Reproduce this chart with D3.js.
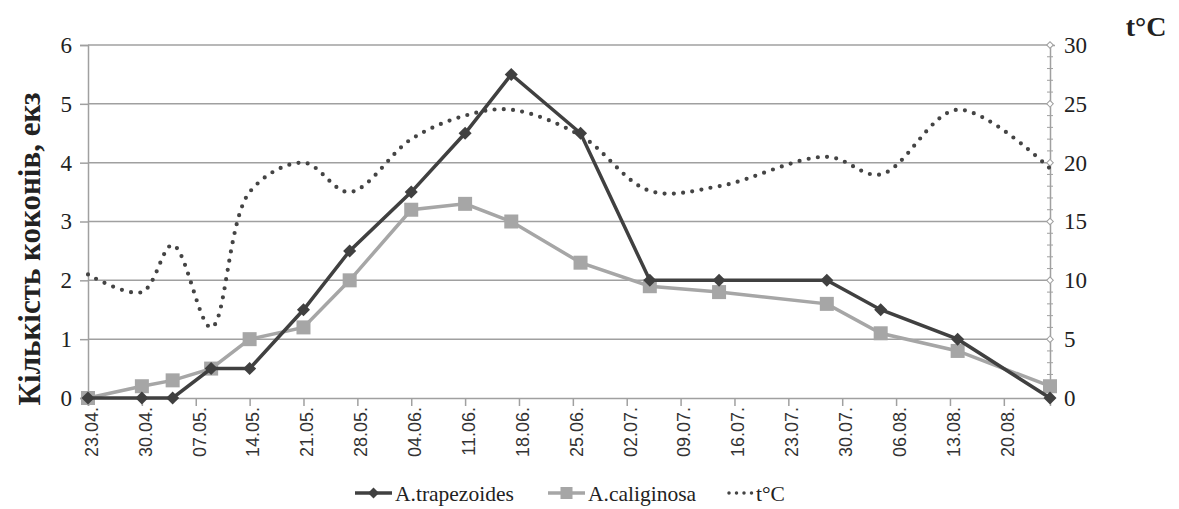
<!DOCTYPE html>
<html>
<head>
<meta charset="utf-8">
<script src="https://d3js.org/d3.v7.min.js"></script>
<style>
  body { margin: 0; background: #fff; }
  svg { font-family: "Liberation Serif", "DejaVu Serif", serif; }
</style>
</head>
<body>
<script>
// sampling dates (day.month)
var dates = ["23.04","30.04","04.05","09.05","14.05","21.05","27.05","04.06","11.06","17.06","26.06","05.07","14.07","28.07","04.08","14.08","26.08"];
var trapezoides = [0,0,0,0.5,0.5,1.5,2.5,3.5,4.5,5.5,4.5,2,2,2,1.5,1,0];
var caliginosa  = [0,0.2,0.3,0.5,1.0,1.2,2.0,3.2,3.3,3.0,2.3,1.9,1.8,1.6,1.1,0.8,0.2];
var temperature = [10.5,9.0,13.0,6.0,17.5,20.0,17.5,22.0,24.0,24.5,22.3,17.6,18.0,20.5,19.0,24.5,19.5];
var xTickLabels = ["23.04","30.04","07.05","14.05","21.05","28.05","04.06","11.06","18.06","25.06","02.07","09.07","16.07","23.07","30.07","06.08","13.08","20.08"];
var leftTicks = [0,1,2,3,4,5,6];
var rightTicks = [0,5,10,15,20,25,30];

function drawChart() {
  var width = 1179, height = 509;
  var mLeft = 88, mRight = 1050, mTop = 45, mBottom = 398;
  var serif = "'Liberation Serif', 'DejaVu Serif', serif";

  var parse = d3.timeParse("%d.%m");

  var svg = d3.select("body").append("svg")
    .attr("width", width).attr("height", height);

  var x = d3.scaleTime()
    .domain([parse(dates[0]), parse(dates[dates.length-1])])
    .range([mLeft, mRight]);
  var y = d3.scaleLinear().domain([0,6]).range([mBottom, mTop]);
  var yT = d3.scaleLinear().domain([0,30]).range([mBottom, mTop]);

  var axisColor = "#a0a0a0";

  // gridlines
  svg.append("g").selectAll("line")
    .data(leftTicks.filter(function(d){return d>0}))
    .enter().append("line")
    .attr("x1", mLeft).attr("x2", mRight)
    .attr("y1", function(d){return y(d)}).attr("y2", function(d){return y(d)})
    .attr("stroke", axisColor).attr("stroke-width", 1.5);

  // left axis
  var gl = svg.append("g").attr("transform","translate("+mLeft+",0)")
    .call(d3.axisLeft(y).tickValues(leftTicks).tickSize(8).tickPadding(8).tickFormat(d3.format("d")));
  // right axis
  var gr = svg.append("g").attr("transform","translate("+mRight+",0)")
    .call(d3.axisRight(yT).tickValues(rightTicks).tickSize(5).tickPadding(9).tickFormat(d3.format("d")));
  // right minor ticks
  svg.append("g").selectAll("line")
    .data(d3.range(0,31))
    .enter().append("line")
    .attr("x1", mRight-3).attr("x2", mRight+3)
    .attr("y1", function(d){return yT(d)}).attr("y2", function(d){return yT(d)})
    .attr("stroke", axisColor).attr("stroke-width", 1);
  svg.append("g").selectAll("path")
    .data(rightTicks)
    .enter().append("path")
    .attr("d", d3.symbol().type(d3.symbolSquare).size(22))
    .attr("transform", function(d){return "translate("+mRight+","+yT(d)+") rotate(45)"})
    .attr("fill", "#fff").attr("stroke", axisColor).attr("stroke-width", 1);

  // bottom axis
  var gx = svg.append("g").attr("transform","translate(0,"+mBottom+")")
    .call(d3.axisBottom(x).tickValues(xTickLabels.map(parse)).tickSize(8).tickFormat(d3.timeFormat("%d.%m.")));

  [gl, gr, gx].forEach(function(g){
    g.select(".domain").attr("stroke", axisColor).attr("stroke-width", 1.5);
    g.selectAll(".tick line").attr("stroke", axisColor).attr("stroke-width", 1.5);
    g.selectAll("text").attr("fill", "#222").style("font-size", "23px")
     .style("font-family", serif);
  });
  gx.selectAll("text")
    .attr("transform","rotate(-90)")
    .attr("text-anchor","end")
    .attr("x", -9).attr("y", 3).attr("dy", "0.35em")
    .style("font-size","18px")
    .style("font-family","'Liberation Sans', Arial, sans-serif")
    .attr("fill","#333");
  gr.selectAll(".tick line").remove();

  // axis titles
  svg.append("text")
    .attr("transform","translate(40,249) rotate(-90)")
    .attr("text-anchor","middle")
    .style("font-family", serif)
    .style("font-size","31px").style("font-weight","bold").attr("fill","#222")
    .text("Кількість коконів, екз");
  svg.append("text")
    .attr("x", 1146).attr("y", 36).attr("text-anchor","middle")
    .style("font-family", serif)
    .style("font-size","28px").style("font-weight","bold").attr("fill","#222")
    .text("t°C");

  // temperature
  var tLine = d3.line()
    .x(function(d,i){return x(parse(dates[i]))})
    .y(function(d){return yT(d)})
    .curve(d3.curveCatmullRom.alpha(0.5));
  svg.append("path").datum(temperature)
    .attr("d", tLine).attr("fill","none")
    .attr("stroke","#444").attr("stroke-width",4.2)
    .attr("stroke-linecap","round").attr("stroke-dasharray","0 9.3");

  var cLine = d3.line()
    .x(function(d,i){return x(parse(dates[i]))})
    .y(function(d){return y(d)});

  // caliginosa
  svg.append("path").datum(caliginosa)
    .attr("d", cLine).attr("fill","none")
    .attr("stroke","#a6a6a6").attr("stroke-width",3.5);
  svg.append("g").selectAll("rect")
    .data(caliginosa).enter().append("rect")
    .attr("x", function(d,i){return x(parse(dates[i]))-7})
    .attr("y", function(d){return y(d)-7})
    .attr("width",14).attr("height",14)
    .attr("fill","#a6a6a6");

  // trapezoides
  svg.append("path").datum(trapezoides)
    .attr("d", cLine).attr("fill","none")
    .attr("stroke","#404040").attr("stroke-width",3.5);
  svg.append("g").selectAll("path")
    .data(trapezoides).enter().append("path")
    .attr("d", d3.symbol().type(d3.symbolSquare).size(85))
    .attr("transform", function(d,i){return "translate("+x(parse(dates[i]))+","+y(d)+") rotate(45)"})
    .attr("fill","#404040");

  // legend
  var legend = svg.append("g").attr("transform","translate(0,493)");
  var items = [
    {name:"A.trapezoides", x:355, kind:"diamond"},
    {name:"A.caliginosa", x:548, kind:"square"},
    {name:"t°C", x:725, kind:"dots"}
  ];
  items.forEach(function(it){
    var g = legend.append("g").attr("transform","translate("+it.x+",0)");
    if (it.kind === "dots") {
      g.append("line").attr("x1",4).attr("x2",28).attr("y1",0).attr("y2",0)
        .attr("stroke","#444").attr("stroke-width",3.5).attr("stroke-linecap","round")
        .attr("stroke-dasharray","0 7.5");
    } else {
      var col = it.kind === "diamond" ? "#404040" : "#a6a6a6";
      g.append("line").attr("x1",0).attr("x2",37).attr("y1",0).attr("y2",0)
        .attr("stroke",col).attr("stroke-width",3.5);
      if (it.kind === "diamond")
        g.append("path").attr("d", d3.symbol().type(d3.symbolSquare).size(60))
          .attr("transform","translate(18.5,0) rotate(45)").attr("fill",col);
      else
        g.append("rect").attr("x",12.5).attr("y",-6).attr("width",12).attr("height",12).attr("fill",col);
    }
    g.append("text").attr("x", it.kind === "dots" ? 31 : 40).attr("y",0).attr("dy","0.35em")
      .style("font-family", serif)
      .style("font-size","21.5px").attr("fill","#222").text(it.name);
  });
}

drawChart();
</script>
</body>
</html>
